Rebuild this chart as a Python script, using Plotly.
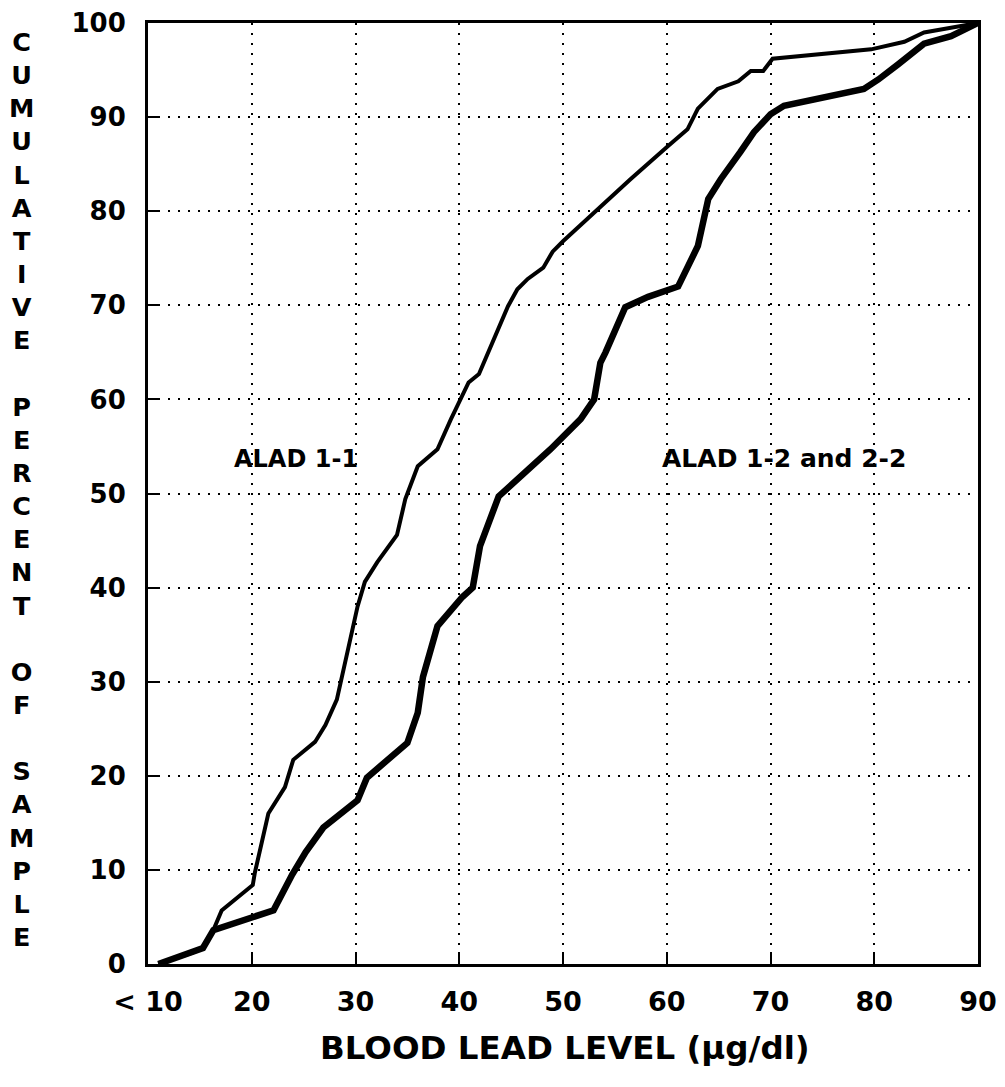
import plotly.graph_objects as go

# ALAD 1-1 (thin line)
alad11_x = [11, 14.3, 15.3, 16.3, 17.1, 20.1, 20.3, 21.1, 21.6, 23.2, 24.0, 26.1, 27.1, 28.2, 29.5,
            30.2, 30.9, 32.1, 34.0, 34.8, 36.0, 37.9, 39.2, 40.1, 40.9, 41.9, 43.5, 44.7, 45.6,
            46.6, 48.1, 49.0, 50.0, 56.5, 60.1, 62.0, 63.0, 64.9, 66.9, 68.1, 69.3, 70.2, 79.7,
            82.9, 84.8, 90]
alad11_y = [0, 1.2, 1.7, 3.6, 5.7, 8.4, 9.7, 13.5, 16, 18.8, 21.7, 23.6, 25.4, 28.1, 34.5,
            38, 40.6, 42.7, 45.6, 49.4, 52.9, 54.7, 57.9, 60, 61.8, 62.7, 66.7, 69.9, 71.7,
            72.8, 74, 75.7, 76.8, 83.4, 86.9, 88.7, 90.9, 93, 93.8, 94.9, 94.9, 96.2, 97.2,
            98, 99, 100]

# ALAD 1-2 and 2-2 (thick line)
alad12_x = [11, 14.3, 15.3, 16.3, 19.8, 22.1, 23.9, 25.2, 26.9, 30.2, 31.1, 35.0, 36.0, 36.5,
            37.9, 40.3, 41.3, 42.0, 43.8, 45.6, 48.8, 51.7, 53.0, 53.6, 54.1, 56.0, 58.2, 61.1,
            63.0, 64.0, 65.2, 67.1, 68.4, 70.0, 71.3, 79.0, 80.4, 82.3, 84.8, 87.4, 90]
alad12_y = [0, 1.2, 1.7, 3.6, 4.9, 5.7, 9.5, 11.9, 14.5, 17.4, 19.8, 23.5, 26.7, 30.5,
            35.9, 39, 40, 44.4, 49.7, 51.5, 54.7, 57.9, 60, 63.9, 65, 69.8, 70.9, 72,
            76.3, 81.3, 83.4, 86.3, 88.4, 90.3, 91.2, 93, 94, 95.6, 97.8, 98.6, 100]

x_ticks = [10, 20, 30, 40, 50, 60, 70, 80, 90]
x_ticklabels = ["< 10", "20", "30", "40", "50", "60", "70", "80", "90"]
y_ticks = [0, 10, 20, 30, 40, 50, 60, 70, 80, 90, 100]

FONT = "DejaVu Sans"

fig = go.Figure()
fig.add_trace(go.Scatter(x=alad11_x, y=alad11_y, mode="lines",
                         line=dict(color="black", width=4), name="ALAD 1-1"))
fig.add_trace(go.Scatter(x=alad12_x, y=alad12_y, mode="lines",
                         line=dict(color="black", width=6.5), name="ALAD 1-2 and 2-2"))

fig.update_xaxes(range=[10, 90], tickvals=x_ticks, ticktext=x_ticklabels, automargin=False,
                 showgrid=True, gridcolor="black", gridwidth=1.5, griddash="2px,8px",
                 showline=True, linecolor="black", linewidth=3, mirror=True,
                 ticks="inside", ticklen=12, tickwidth=2, tickcolor="black",
                 tickfont=dict(family=FONT, size=27, color="black", weight="bold"),
                 ticklabelstandoff=12, zeroline=False)
fig.update_yaxes(range=[0, 100], tickvals=y_ticks, automargin=False,
                 showgrid=True, gridcolor="black", gridwidth=1.5, griddash="2px,8px",
                 showline=True, linecolor="black", linewidth=3, mirror=True,
                 ticks="inside", ticklen=12, tickwidth=2, tickcolor="black",
                 tickfont=dict(family=FONT, size=26, color="black", weight="bold"),
                 ticklabelstandoff=14, zeroline=False)

letters = list("CUMULATIVE") + ["\u00a0"] + list("PERCENT") + ["\u00a0"] + list("OF") + ["\u00a0"] + list("SAMPLE")
ann_font = dict(family=FONT, color="black", weight="bold")

fig.add_annotation(text="<br>".join(letters), xref="paper", yref="paper",
                   x=-0.152, y=0.504, xanchor="center", yanchor="middle", showarrow=False,
                   font=dict(size=25.5, **ann_font))
fig.add_annotation(text="BLOOD LEAD LEVEL (µg/dl)", xref="paper", yref="paper",
                   x=0.502, y=-0.089, xanchor="center", yanchor="middle", showarrow=False,
                   font=dict(size=32.5, **ann_font))
fig.add_annotation(text="ALAD 1-1", x=24.3, y=53.7, showarrow=False,
                   font=dict(size=24, **ann_font))
fig.add_annotation(text="ALAD 1-2 and 2-2", x=71.3, y=53.7, showarrow=False,
                   font=dict(size=25, **ann_font))

fig.update_layout(width=1005, height=1087, showlegend=False,
                  paper_bgcolor="white", plot_bgcolor="white",
                  margin=dict(l=140, r=35, t=15, b=131))

fig.write_html("out.html")
